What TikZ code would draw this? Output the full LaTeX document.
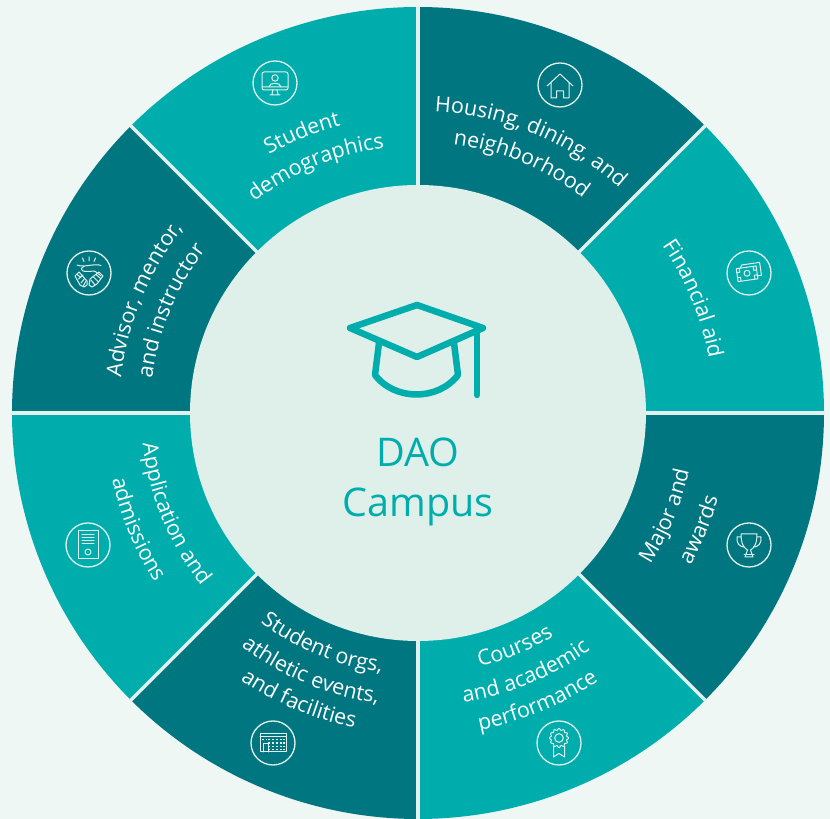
\documentclass[tikz,border=0pt]{standalone}
\usepackage{fontspec}
\setmainfont{Open Sans}
\usetikzlibrary{decorations.text,calc}
\definecolor{bgc}{HTML}{EFF7F4}
\definecolor{innerc}{HTML}{DFEFE9}
\definecolor{tealc}{HTML}{00ADAD}
\definecolor{darkc}{HTML}{007780}
\definecolor{linec}{HTML}{E2F1ED}
\newcommand\lblfont{\fontsize{21.4}{21.4}\selectfont\color{white}}
\newcommand\sector[3]{\fill[#3] (#1:227) arc (#1:#2:227) -- (#2:406) arc (#2:#1:406) -- cycle;}
\newcommand\cwlabel[3]{\path[postaction={decorate},decoration={text along path,text align=center,text={|\lblfont|#3}}] (#1+55:#2) arc (#1+55:#1-55:#2);}
\newcommand\ccwlabel[3]{\path[postaction={decorate},decoration={text along path,text align=center,text={|\lblfont|#3}}] (#1-55:#2) arc (#1-55:#1+55:#2);}
\tikzset{iconline/.style={draw=linec,line width=1pt,line join=round,line cap=round},
  iconring/.style={draw=linec,line width=1.3pt},
  capline/.style={draw=tealc,line width=6.5pt,line join=round,line cap=round},
  centertext/.style={text=tealc,font=\fontsize{39.5}{39.5}\selectfont,inner sep=0pt,anchor=center}}
\begin{document}
\begin{tikzpicture}[x=1pt,y=1pt]
\useasboundingbox (0,0) rectangle (830,819);
\fill[bgc] (0,0) rectangle (830,819);
\begin{scope}[shift={(418,406)}]
\sector{0}{45}{tealc}
\sector{45}{90}{darkc}
\sector{90}{135}{tealc}
\sector{135}{180}{darkc}
\sector{180}{225}{tealc}
\sector{225}{270}{darkc}
\sector{270}{315}{tealc}
\sector{315}{360}{darkc}
\foreach \a in {0,45,...,315}{\draw[linec,line width=3.4pt] (\a:227) -- (\a:407);}
\fill[innerc] (0,0) circle (228);
\cwlabel{112.5}{298}{Student}
\cwlabel{112.5}{267}{demographics}
\cwlabel{67.5}{302}{Housing, dining, and}
\cwlabel{67.5}{271}{neighborhood}
\cwlabel{22.5}{296}{Financial aid}
\ccwlabel{-22.5}{277}{Major and}
\ccwlabel{-22.5}{312}{awards}
\ccwlabel{-67.5}{261}{Courses}
\ccwlabel{-67.5}{293}{and academic}
\ccwlabel{-67.5}{323}{performance}
\ccwlabel{-112.5}{262}{Student orgs,}
\ccwlabel{-112.5}{293}{athletic events,}
\ccwlabel{-112.5}{321}{and facilities}
\ccwlabel{-157.5}{277}{Application and}
\ccwlabel{-157.5}{313}{admissions}
\cwlabel{157.5}{299}{Advisor, mento{r\kern-1.5pt},}
\cwlabel{157.5}{268}{and instructor}
\end{scope}
% graduation cap
\draw[capline] (417,514) -- (350,491) -- (417,462) -- (483,491) -- cycle;
\draw[capline] (379,476) -- (375,444) .. controls (395,418) and (438,418) .. (458,444) -- (454,476);
\draw[capline] (477,491) -- (477,424);
\node[centertext] (dao) at (418,367) {DAO};
\node[centertext] (campus) at (418,312) {Campus};
% icons: monitor
\begin{scope}[shift={(275,736)}]
\draw[iconring] (0,0) circle (22);
\draw[iconline,rounded corners=2pt] (-13,-7) rectangle (13,11);
\draw[iconline] (-13,-4) -- (13,-4) (-2,-7) -- (-3,-11) (2,-7) -- (3,-11) (-5,-12) -- (5,-12);
\draw[iconline] (0,5) circle (3.2);
\draw[iconline] (-6,-4) .. controls (-6,1) and (6,1) .. (6,-4);
\end{scope}
% house
\begin{scope}[shift={(560,734)}]
\draw[iconring] (0,0) circle (22);
\draw[iconline] (-13,-1) -- (0,11) -- (13,-1) (-9,2) -- (-9,-13) -- (-3.5,-13) -- (-3.5,-6) -- (3.5,-6) -- (3.5,-13) -- (9,-13) -- (9,2);
\end{scope}
% money
\begin{scope}[shift={(749,546)},rotate=8]
\draw[iconring,rotate=-8] (0,0) circle (22);
\draw[iconline] (-12,-7) rectangle (8,6);
\draw[iconline] (-2,0) circle (3);
\draw[iconline] (-12,-3) -- (-9,-3) -- (-9,-7) (-12,2) -- (-9,2) -- (-9,6) (8,-3) -- (5,-3) -- (5,-7) (8,2) -- (5,2) -- (5,6);
\draw[iconline] (-8,6) -- (-6,9) -- (12,9) -- (12,-4) -- (8,-4);
\end{scope}
% trophy
\begin{scope}[shift={(749,274)}]
\draw[iconring] (0,0) circle (22);
\draw[iconline] (-8,11) -- (8,11) .. controls (8,1) and (5,-3) .. (1.5,-5) -- (4,-12) -- (-4,-12) -- (-1.5,-5) .. controls (-5,-3) and (-8,1) .. (-8,11);
\draw[iconline] (-8,8) -- (-12,8) .. controls (-13,2) and (-9,-2) .. (-5,-2) (8,8) -- (12,8) .. controls (13,2) and (9,-2) .. (5,-2);
\draw[iconline] (-5,-10) -- (5,-10);
\end{scope}
% ribbon
\begin{scope}[shift={(559,76)}]
\draw[iconring] (0,0) circle (22);
\draw[iconline,shift={(0,5)}] plot[domain=0:360,samples=145] ({(8.7+0.8*cos(12*\x))*cos(\x)},{(8.7+0.8*cos(12*\x))*sin(\x)}) -- cycle;
\draw[iconline] (0,5) circle (4.3);
\draw[iconline] (-5.5,-3) -- (-5.5,-14) -- (0,-10.5) -- (5.5,-14) -- (5.5,-3);
\end{scope}
% building
\begin{scope}[shift={(273,76)}]
\draw[iconring] (0,0) circle (22);
\draw[iconline] (-13,-9) rectangle (13,9);
\draw[iconline] (-13,6) -- (13,6);
\draw[iconline] (-10,-9) -- (-10,-1) -- (-5,-1) -- (-5,-9);
\foreach \x in {-4,0,4,8,11}{\foreach \y in {3.5,0,-3.5,-6.5}{\fill[linec] (\x-0.6,\y-0.6) rectangle (\x+0.6,\y+0.6);}}
\foreach \x in {-10,-6.5}{\fill[linec] (\x-0.6,2.9) rectangle (\x+0.6,4.1);}
\end{scope}
% document
\begin{scope}[shift={(88,274)}]
\draw[iconring] (0,0) circle (22);
\draw[iconline] (-10,-14) rectangle (10,14);
\draw[iconline] (-6,10) -- (6,10) (-6,7) -- (6,7) (-6,4) -- (6,4) (-6,1) -- (6,1);
\draw[iconline] (0,-7) circle (3);
\end{scope}
% handshake
\begin{scope}[shift={(89,546)}]
\draw[iconring] (0,0) circle (22);
\draw[iconline] (0,16) -- (0,12) (-6.5,15) -- (-5,11.5) (6.5,15) -- (5,11.5);
\draw[iconline] (-12,8) .. controls (-5,5) and (5,10) .. (12,7.5);
\draw[iconline] (-5,6.5) .. controls (-9,5) and (-8,2) .. (-4,1.5) .. controls (2,1) and (5,3) .. (7,1) -- (12,-3);
\draw[iconline] (-14,-3) -- (-10,1) -- (-2,-8) -- (-2,-12) -- (-5,-14) -- (-9,-12) -- cycle;
\draw[iconline] (-12,-1.5) -- (-8,-4.5) (-10.5,-6) -- (-6,-2) (-8,-10) -- (-4.5,-5.5) (-5.5,-12.5) -- (-3,-8);
\draw[iconline] (14,-3) -- (10,1) -- (1,-6) -- (0,-12) -- (3,-14) -- (8,-11) -- cycle;
\draw[iconline] (11.5,-5.5) -- (7,-1.5) (9,-8.5) -- (4.5,-4) (6,-12) -- (2,-7);
\end{scope}
\end{tikzpicture}
\end{document}
